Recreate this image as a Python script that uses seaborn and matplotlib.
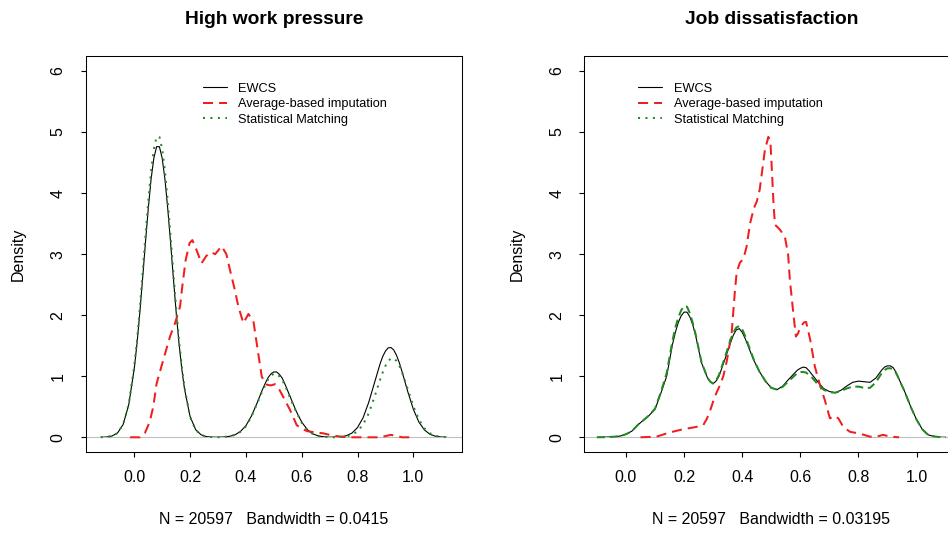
import numpy as np
import matplotlib
matplotlib.use("Agg")
import matplotlib.pyplot as plt
from matplotlib.lines import Line2D
import seaborn as sns

# ---------------------------------------------------------------------------
# Kernel density estimates (N = 20597)
# ---------------------------------------------------------------------------
series_labels = ["EWCS", "Average-based imputation", "Statistical Matching"]
panel_titles = ["High work pressure", "Job dissatisfaction"]
panel_subs = ["N = 20597   Bandwidth = 0.0415", "N = 20597   Bandwidth = 0.03195"]
x_ticks = [0.0, 0.2, 0.4, 0.6, 0.8, 1.0]
x_tick_labels = ["0.0", "0.2", "0.4", "0.6", "0.8", "1.0"]
y_ticks = [0, 1, 2, 3, 4, 5, 6]
y_tick_labels = ["0", "1", "2", "3", "4", "5", "6"]

# High work pressure: evaluation points (denser around the modes)
hwp_x = [-0.12, -0.10, -0.08, -0.06, -0.04, -0.02,
         0.00, 0.01, 0.02, 0.03, 0.04, 0.05, 0.06, 0.07, 0.08, 0.09,
         0.10, 0.11, 0.12, 0.13, 0.14, 0.15, 0.16, 0.17, 0.18,
         0.20, 0.22, 0.24, 0.26, 0.28, 0.30, 0.32, 0.34, 0.36, 0.38,
         0.40, 0.42, 0.44, 0.46,
         0.47, 0.48, 0.49, 0.50, 0.51, 0.52, 0.53, 0.54,
         0.56, 0.58, 0.60, 0.62, 0.64, 0.66, 0.68, 0.70, 0.72, 0.74,
         0.76, 0.78, 0.80, 0.82, 0.84, 0.86, 0.88,
         0.89, 0.90, 0.91, 0.92, 0.93, 0.94, 0.95, 0.96,
         0.98, 1.00, 1.02, 1.04, 1.06, 1.08, 1.10, 1.12]
hwp_ewcs = [0.001, 0.005, 0.021, 0.071, 0.21, 0.53,
            1.13, 1.55, 2.05, 2.61, 3.19, 3.74, 4.22, 4.57, 4.76, 4.76,
            4.57, 4.22, 3.74, 3.19, 2.61, 2.05, 1.55, 1.13, 0.79,
            0.34, 0.125, 0.039, 0.010, 0.003, 0.002, 0.005, 0.015, 0.039, 0.093,
            0.19, 0.35, 0.56, 0.79,
            0.89, 0.98, 1.04, 1.07, 1.07, 1.03, 0.97, 0.87,
            0.65, 0.43, 0.25, 0.126, 0.056, 0.022, 0.008, 0.002, 0.003, 0.009,
            0.026, 0.069, 0.16, 0.32, 0.57, 0.88, 1.19,
            1.32, 1.41, 1.465, 1.47, 1.43, 1.34, 1.22, 1.07,
            0.75, 0.46, 0.25, 0.12, 0.048, 0.017, 0.005, 0.001]
hwp_match = [0.001, 0.005, 0.02, 0.07, 0.21, 0.54,
             1.17, 1.60, 2.12, 2.70, 3.30, 3.86, 4.36, 4.72, 4.92, 4.92,
             4.72, 4.36, 3.86, 3.30, 2.70, 2.12, 1.60, 1.17, 0.82,
             0.33, 0.12, 0.037, 0.01, 0.003, 0.002, 0.005, 0.015, 0.038, 0.09,
             0.18, 0.34, 0.55, 0.77,
             0.86, 0.95, 1.01, 1.04, 1.04, 1.00, 0.94, 0.85,
             0.63, 0.42, 0.24, 0.12, 0.054, 0.021, 0.008, 0.002, 0.001, 0.005,
             0.014, 0.040, 0.098, 0.21, 0.39, 0.65, 0.93,
             1.06, 1.17, 1.25, 1.29, 1.295, 1.25, 1.17, 1.06,
             0.79, 0.51, 0.29, 0.146, 0.064, 0.025, 0.008, 0.002]
hwp_avg_x = [-0.015, 0.02, 0.038, 0.055, 0.068, 0.08, 0.104, 0.128, 0.146, 0.164,
             0.172, 0.184, 0.198, 0.208, 0.222, 0.241, 0.258, 0.275, 0.29, 0.313,
             0.33, 0.343, 0.36, 0.373, 0.391, 0.409, 0.427, 0.444, 0.457, 0.475,
             0.49, 0.504, 0.52, 0.534, 0.558, 0.582, 0.60, 0.62, 0.65, 0.677,
             0.70, 0.725, 0.75, 0.78, 0.88, 0.90, 0.92, 0.94, 0.96, 0.99]
hwp_avg_y = [0.0, 0.0, 0.07, 0.25, 0.5, 0.88, 1.27, 1.65, 1.87, 2.14,
             2.47, 2.9, 3.18, 3.23, 3.08, 2.85, 2.97, 3.03, 3.0, 3.13,
             3.0, 2.74, 2.42, 2.14, 1.87, 2.02, 1.9, 1.38, 0.99, 0.86,
             0.85, 0.87, 0.78, 0.66, 0.45, 0.2, 0.14, 0.1, 0.08, 0.065,
             0.04, 0.02, 0.005, 0.0, 0.0, 0.02, 0.04, 0.02, 0.0, 0.0]

# Job dissatisfaction: evaluation points (denser around the modes)
jd_x = [-0.10, -0.08, -0.06, -0.04, -0.02, 0.00, 0.02, 0.04, 0.06, 0.08,
        0.10, 0.12, 0.14, 0.16,
        0.17, 0.18, 0.19, 0.20, 0.21, 0.22, 0.23,
        0.24, 0.26, 0.28,
        0.29, 0.30, 0.31,
        0.32, 0.34, 0.36,
        0.37, 0.38, 0.39, 0.40, 0.41,
        0.42, 0.44, 0.46, 0.48, 0.50, 0.52, 0.54, 0.56, 0.58,
        0.59, 0.60, 0.61, 0.62, 0.63,
        0.64, 0.66, 0.68, 0.70, 0.72, 0.74, 0.76, 0.78, 0.80, 0.82,
        0.84, 0.86, 0.88,
        0.89, 0.90, 0.91, 0.92, 0.93,
        0.94, 0.96, 0.98, 1.00, 1.02, 1.04, 1.06, 1.08, 1.10]
jd_ewcs = [0.0, 0.002, 0.005, 0.01, 0.02, 0.05, 0.10, 0.20, 0.28, 0.36,
           0.46, 0.72, 1.00, 1.52,
           1.72, 1.88, 1.99, 2.05, 2.05, 1.97, 1.84,
           1.66, 1.22, 0.98,
           0.91, 0.88, 0.92,
           1.00, 1.27, 1.55,
           1.68, 1.76, 1.78, 1.72, 1.62,
           1.50, 1.26, 1.07, 0.92, 0.81, 0.78, 0.84, 0.95, 1.05,
           1.10, 1.13, 1.15, 1.14, 1.09,
           1.03, 0.91, 0.80, 0.75, 0.73, 0.77, 0.84, 0.90, 0.92, 0.91,
           0.90, 0.97, 1.10,
           1.15, 1.17, 1.17, 1.14, 1.06,
           0.95, 0.74, 0.50, 0.29, 0.13, 0.04, 0.015, 0.003, 0.0]
jd_match = [0.0, 0.002, 0.005, 0.01, 0.02, 0.05, 0.10, 0.20, 0.28, 0.36,
            0.47, 0.74, 1.05, 1.58,
            1.80, 1.96, 2.08, 2.15, 2.14, 2.03, 1.87,
            1.68, 1.23, 0.98,
            0.91, 0.88, 0.93,
            1.02, 1.30, 1.60,
            1.72, 1.80, 1.82, 1.77, 1.66,
            1.53, 1.27, 1.07, 0.92, 0.81, 0.78, 0.83, 0.92, 1.01,
            1.05, 1.07, 1.07, 1.06, 1.02,
            0.98, 0.87, 0.78, 0.74, 0.73, 0.76, 0.80, 0.83, 0.83, 0.81,
            0.81, 0.90, 1.05,
            1.10, 1.13, 1.13, 1.12, 1.05,
            0.95, 0.74, 0.50, 0.29, 0.13, 0.04, 0.015, 0.003, 0.0]
jd_avg_x = [0.05, 0.105, 0.151, 0.195, 0.242, 0.266, 0.278, 0.289, 0.306, 0.323,
            0.335, 0.347, 0.356, 0.364, 0.37, 0.375, 0.381, 0.392, 0.404, 0.415,
            0.427, 0.44, 0.45, 0.46, 0.467, 0.478, 0.49, 0.497, 0.503, 0.508,
            0.513, 0.522, 0.53, 0.547, 0.558, 0.564, 0.576, 0.585, 0.592, 0.599,
            0.612, 0.62, 0.634, 0.645, 0.65, 0.668, 0.685, 0.702, 0.717, 0.731,
            0.748, 0.771, 0.805, 0.84, 0.87, 0.885, 0.91, 0.94]
jd_avg_y = [0.0, 0.01, 0.08, 0.13, 0.17, 0.2, 0.3, 0.43, 0.67, 0.85,
            1.0, 1.25, 1.5, 1.72, 2.1, 2.4, 2.7, 2.86, 2.92, 3.12,
            3.5, 3.75, 3.86, 4.05, 4.3, 4.7, 4.92, 4.85, 4.3, 3.8,
            3.48, 3.44, 3.40, 3.28, 3.0, 2.58, 2.03, 1.65, 1.7, 1.79,
            1.88, 1.89, 1.6, 1.3, 1.16, 0.85, 0.6, 0.31, 0.35, 0.31,
            0.17, 0.09, 0.06, 0.01, 0.02, 0.04, 0.01, 0.0]

# ---------------------------------------------------------------------------
# Styling
# ---------------------------------------------------------------------------
sns.set_style("ticks", rc={
    "axes.edgecolor": "black",
    "axes.linewidth": 0.75,
    "xtick.color": "black",
    "ytick.color": "black",
    "xtick.direction": "out",
    "ytick.direction": "out",
    "xtick.major.size": 6.9,
    "ytick.major.size": 6.9,
    "xtick.major.width": 0.75,
    "ytick.major.width": 0.75,
    "text.color": "black",
    "axes.labelcolor": "black",
})
plt.rcParams["font.family"] = ["Liberation Sans", "DejaVu Sans"]

RED = "#f01e1e"
GREEN = "#228b22"
ZERO_GRAY = "#bebebe"
TICK_FS = 11.5
LEGEND_FS = 9.2
DASHED = (0, (5, 3))
DOTTED = (0, (1, 2.7))

fig = plt.figure(figsize=(9.48, 5.33), dpi=100)
W, H = 948.0, 533.0
ax_bottom = 1 - 451.95 / H
ax_height = 395.65 / H
ax_left = fig.add_axes([85.6 / W, ax_bottom, 376.4 / W, ax_height])
ax_right = fig.add_axes([584.3 / W, ax_bottom, 373.9 / W, ax_height])

panels = [
    dict(ax=ax_left, xlim=(-0.1745, 1.1745), x=hwp_x, ewcs=hwp_ewcs,
         avg_x=hwp_avg_x, avg_y=hwp_avg_y, match=hwp_match,
         match_style=DOTTED, legend_x=0.311),
    dict(ax=ax_right, xlim=(-0.1435, 1.1435), x=jd_x, ewcs=jd_ewcs,
         avg_x=jd_avg_x, avg_y=jd_avg_y, match=jd_match,
         match_style=(0, (4, 2.3)), legend_x=0.1444),
]

for i, p in enumerate(panels):
    ax = p["ax"]
    sns.lineplot(x=p["x"], y=p["ewcs"], ax=ax, color="black", linewidth=0.8,
                 estimator=None, sort=False, zorder=2)
    ax.axhline(0, color=ZERO_GRAY, linewidth=0.75, zorder=2.5)
    sns.lineplot(x=p["avg_x"], y=p["avg_y"], ax=ax, color=RED, linewidth=1.45,
                 linestyle=DASHED, estimator=None, sort=False, zorder=3)
    sns.lineplot(x=p["x"], y=p["match"], ax=ax, color=GREEN, linewidth=1.45,
                 linestyle=p["match_style"], estimator=None, sort=False, zorder=4)

    ax.set_xlim(*p["xlim"])
    ax.set_ylim(-0.24, 6.24)
    ax.set_xticks(x_ticks)
    ax.set_xticklabels(x_tick_labels, fontsize=TICK_FS)
    ax.set_yticks(y_ticks)
    ax.set_yticklabels(y_tick_labels, fontsize=TICK_FS, rotation=90, va="center")
    ax.tick_params(axis="x", pad=9.5, top=False)
    ax.tick_params(axis="y", pad=10.9, right=False)
    for s in ax.spines.values():
        s.set_visible(True)
        s.set_color("black")
        s.set_linewidth(0.75)

    ax.set_title(panel_titles[i], fontsize=13.8, fontweight="bold",
                 y=(451.95 - 20) / 395.65, va="center", pad=0)
    ax.set_xlabel(panel_subs[i], fontsize=TICK_FS, va="center")
    ax.xaxis.set_label_coords(0.5, (451.95 - 520) / 395.65)
    ax.set_ylabel("Density", fontsize=TICK_FS, va="center", ha="center")
    ax.yaxis.set_label_coords(-0.179, 0.5)

    handles = [
        Line2D([], [], color="black", linewidth=0.8),
        Line2D([], [], color=RED, linewidth=1.45, linestyle=DASHED),
        Line2D([], [], color=GREEN, linewidth=1.45, linestyle=DOTTED),
    ]
    ax.legend(handles, series_labels, loc="upper left",
              bbox_to_anchor=(p["legend_x"], 0.9328), frameon=False,
              fontsize=LEGEND_FS, handlelength=1.875, handletextpad=0.9,
              labelspacing=0.275, borderpad=0, borderaxespad=0)

fig.savefig("out.png", dpi=100)
